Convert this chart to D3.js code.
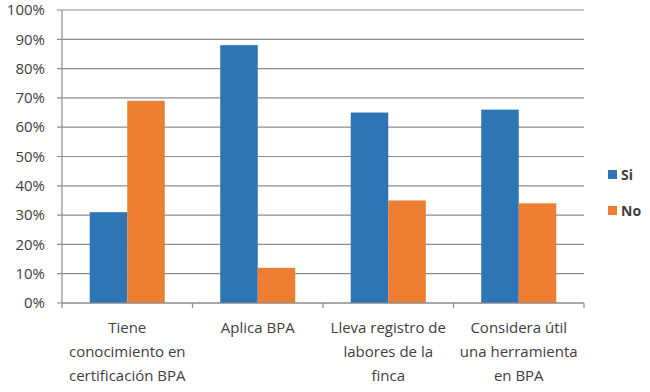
<!DOCTYPE html>
<html>
<head>
<meta charset="utf-8">
<script src="https://cdn.jsdelivr.net/npm/d3@7"></script>
<style>
  body { margin: 0; background: #fff; }
  text { font-family: "Open Sans", "Noto Sans", sans-serif; fill: #404040; }
</style>
</head>
<body>
<script>
let categories = [
    ['Tiene', 'conocimiento en', 'certificación BPA'],
    ['Aplica BPA'],
    ['Lleva registro de', 'labores de la', 'finca'],
    ['Considera útil', 'una herramienta', 'en BPA']
];
let seriesNames = ['Si', 'No'];
let siValues = [0.31, 0.88, 0.65, 0.66];
let noValues = [0.69, 0.12, 0.35, 0.34];
let yTicks = [0, 0.1, 0.2, 0.3, 0.4, 0.5, 0.6, 0.7, 0.8, 0.9, 1];

let colors = {Si: '#2e75b6', No: '#ed7d31'};

let margin = {top: 10, right: 66, bottom: 89, left: 62},
    width = 650 - margin.left - margin.right,
    height = 392 - margin.top - margin.bottom;

let svg = d3.select('body').append('svg')
    .attr('width', 650)
    .attr('height', 392);

let g = svg.append('g')
    .attr('transform', 'translate(' + margin.left + ',' + margin.top + ')');

let x = d3.scaleBand()
    .domain(d3.range(categories.length))
    .range([0, width])
    .paddingInner(0.425)
    .paddingOuter(0.2125);

let xSeries = d3.scaleBand()
    .domain(seriesNames)
    .range([0, x.bandwidth()]);

let y = d3.scaleLinear()
    .domain([0, 1])
    .range([height, 0]);

// gridlines, with short ticks left of the axis
g.selectAll('.grid').data(yTicks).enter().append('line')
    .attr('class', 'grid')
    .attr('x1', -5)
    .attr('x2', width)
    .attr('y1', d => y(d))
    .attr('y2', d => y(d))
    .style('stroke', '#8c8c8c')
    .style('stroke-width', 1.2);

g.selectAll('.ylabel').data(yTicks).enter().append('text')
    .attr('class', 'ylabel')
    .attr('x', -17)
    .attr('y', d => y(d))
    .attr('dy', '0.35em')
    .attr('text-anchor', 'end')
    .style('font-size', '15px')
    .text(d3.format('.0%'));

let rows = categories.map((c, i) => ({i, Si: siValues[i], No: noValues[i]}));

let groups = g.selectAll('.group').data(rows).enter().append('g')
    .attr('class', 'group')
    .attr('transform', d => 'translate(' + x(d.i) + ',0)');

groups.selectAll('rect')
    .data(d => seriesNames.map(s => ({s, v: d[s]})))
    .enter().append('rect')
    .attr('x', d => xSeries(d.s))
    .attr('y', d => y(d.v))
    .attr('width', xSeries.bandwidth())
    .attr('height', d => height - y(d.v))
    .style('fill', d => colors[d.s]);

// axis lines
g.append('line')
    .attr('x1', 0).attr('x2', 0)
    .attr('y1', 0).attr('y2', height)
    .style('stroke', '#8c8c8c').style('stroke-width', 1.2);
g.append('line')
    .attr('x1', 0).attr('x2', width)
    .attr('y1', height).attr('y2', height)
    .style('stroke', '#8c8c8c').style('stroke-width', 1.2);

// ticks between categories
let bounds = d3.range(categories.length + 1).map(i => i * x.step());
g.selectAll('.xtick').data(bounds).enter().append('line')
    .attr('class', 'xtick')
    .attr('x1', d => d).attr('x2', d => d)
    .attr('y1', height).attr('y2', height + 5)
    .style('stroke', '#8c8c8c').style('stroke-width', 1.2);

// category labels
let labels = g.selectAll('.xlabel').data(categories).enter().append('text')
    .attr('class', 'xlabel')
    .attr('text-anchor', 'middle')
    .attr('x', (d, i) => x(i) + x.bandwidth() / 2)
    .attr('y', height + 30)
    .style('font-size', '15px');
labels.selectAll('tspan').data(d => d).enter().append('tspan')
    .attr('x', function() { return this.parentNode.getAttribute('x'); })
    .attr('dy', (d, i) => i === 0 ? 0 : 24)
    .text(d => d);

// legend
let legend = svg.selectAll('.legend').data(seriesNames).enter().append('g')
    .attr('class', 'legend')
    .attr('transform', (d, i) => 'translate(608,' + (170 + i * 36) + ')');
legend.append('rect')
    .attr('width', 9).attr('height', 9)
    .style('fill', d => colors[d]);
legend.append('text')
    .attr('x', 13).attr('y', 5)
    .attr('dy', '0.35em')
    .style('font-size', '14px')
    .style('font-weight', 'bold')
    .text(d => d);
</script>
</body>
</html>
